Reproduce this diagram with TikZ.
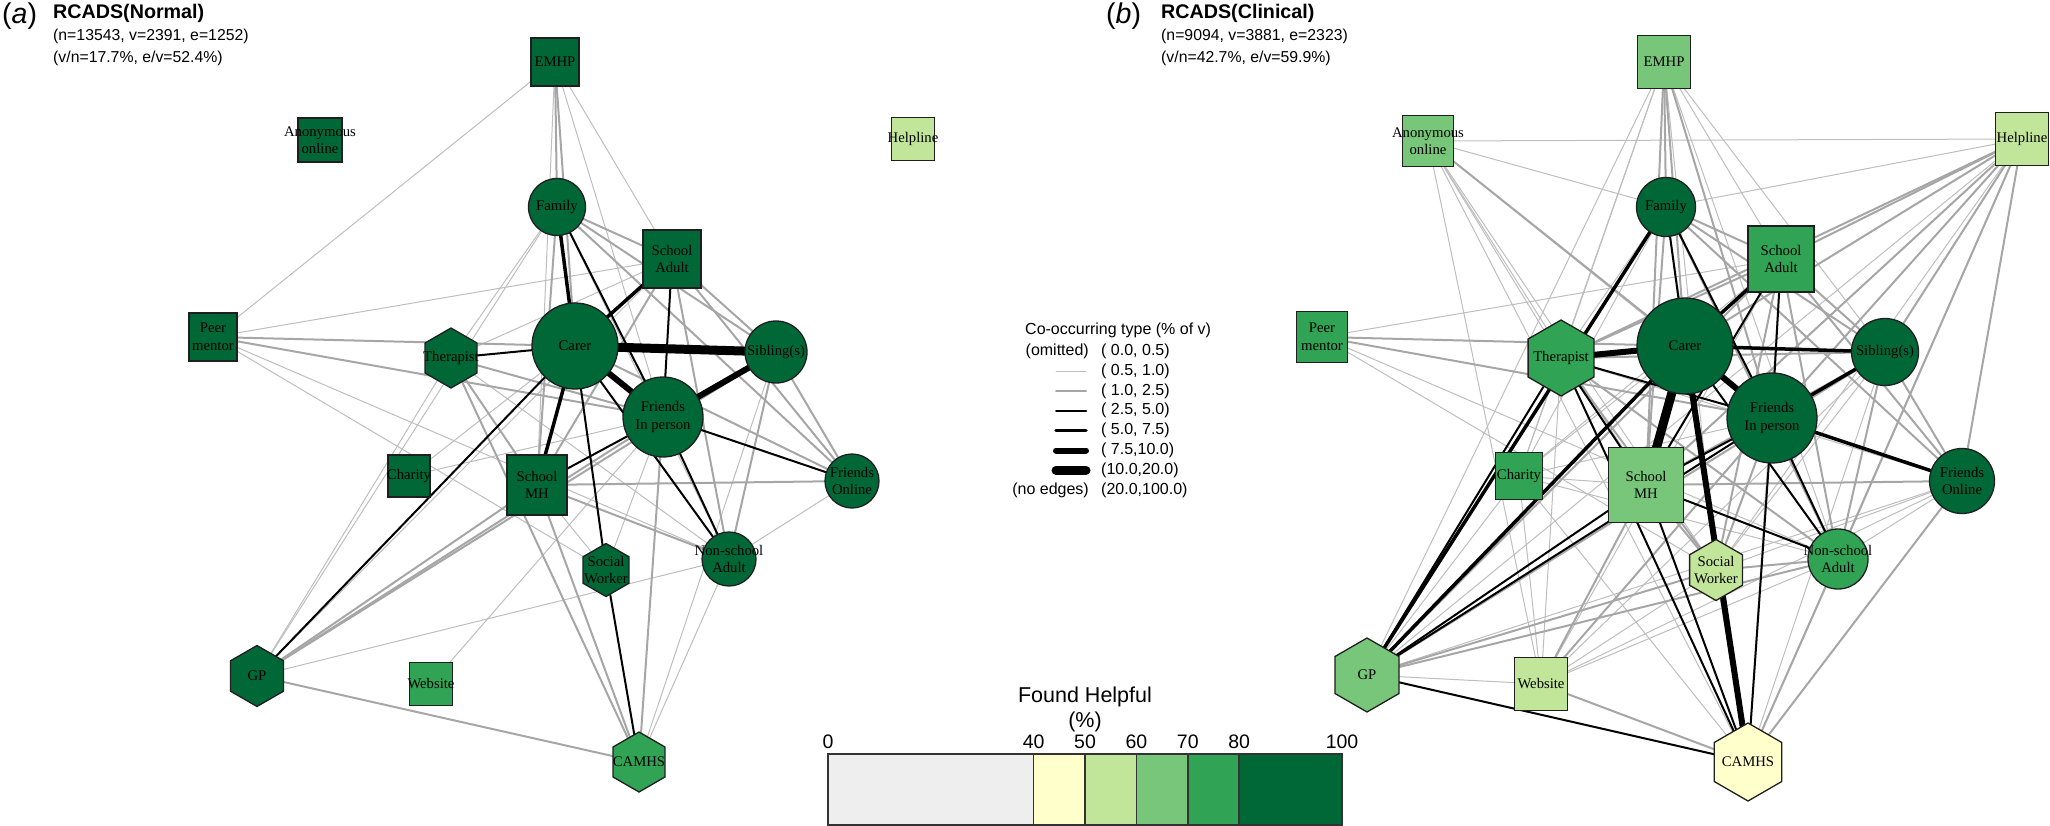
\documentclass[tikz,border=0pt]{standalone}
\usepackage{fontspec}
\setmainfont{Liberation Serif}
\newfontfamily\hv{Liberation Sans}
\usetikzlibrary{shapes.geometric}
\pgfdeclarelayer{background}
\pgfsetlayers{background,main}
\definecolor{cA}{HTML}{006837}
\definecolor{cB}{HTML}{31A354}
\definecolor{cC}{HTML}{78C679}
\definecolor{cD}{HTML}{C2E699}
\definecolor{cE}{HTML}{FFFFCC}
\definecolor{cZ}{HTML}{EEEEEE}
\definecolor{lgt}{HTML}{BEBEBE}
\definecolor{mgt}{HTML}{A6A6A6}
\definecolor{bord}{HTML}{1F1F1F}
\newcommand\mkvtx[6]{\node[#2, minimum size=#3pt, fill=#4] (#1) at (#5) {};
  \node[lbl] at (#1.center) {#6};}
\newcommand\edgeset[3]{\foreach \p/\q in {#3} {\draw[#2] (\p-#1.center) -- (\q-#1.center);}}
\begin{document}
\begin{tikzpicture}[x=1pt,y=-1pt,
  nd/.style={draw=bord, line width=1.3pt, inner sep=0pt, outer sep=0pt},
  sq/.style={nd, rectangle},
  ci/.style={nd, circle},
  hx/.style={nd, regular polygon, regular polygon sides=6, shape border rotate=30},
  lbl/.style={font=\fontsize{14.7}{17.5}\selectfont, align=center, inner sep=0pt, text=black},
  et/.style={line width=1pt, draw=lgt, line cap=round},
  eg/.style={line width=2pt, draw=mgt, line cap=round},
  e2/.style={line width=2pt, draw=black, line cap=round},
  e3/.style={line width=3.5pt, draw=black, line cap=round},
  e6/.style={line width=6pt, draw=black, line cap=round},
  e9/.style={line width=9pt, draw=black, line cap=round},
  hdbig/.style={anchor=base west, inner sep=0pt, font=\hv\fontsize{28.5}{30}\selectfont},
  hdtitle/.style={anchor=base west, inner sep=0pt, font=\hv\bfseries\fontsize{19.7}{22}\selectfont},
  hdsub/.style={anchor=base west, inner sep=0pt, font=\hv\fontsize{15.8}{18}\selectfont},
  lgtxt/.style={inner sep=0pt, font=\hv\fontsize{16}{18}\selectfont},
  cbtxt/.style={anchor=base, inner sep=0pt, font=\hv\fontsize{19.5}{21}\selectfont},
  cbttl/.style={anchor=base, inner sep=0pt, font=\hv\fontsize{21.5}{24}\selectfont},
  cbbox/.style={draw=black!80, line width=1.5pt}
]
\useasboundingbox (0,0) rectangle (2050,826);

% ---------- headers ----------
\node[hdbig] (ha) at (2,24) {(\textit{a})};
\node[hdtitle] (ta) at (53,19) {RCADS(Normal)};
\node[hdsub] (sa1) at (53,41) {(n=13543, v=2391, e=1252)};
\node[hdsub] (sa2) at (53,63) {(v/n=17.7\%, e/v=52.4\%)};
\node[hdbig] (hb) at (1106,24) {(\textit{b})};
\node[hdtitle] (tb) at (1161,19) {RCADS(Clinical)};
\node[hdsub] (sb1) at (1161,41) {(n=9094, v=3881, e=2323)};
\node[hdsub] (sb2) at (1161,63) {(v/n=42.7\%, e/v=59.9\%)};

% ---------- panel (a) nodes ----------
\mkvtx{emhp-A}{sq}{48}{cA}{555,62}{EMHP}
\mkvtx{anon-A}{sq}{44}{cA}{320,140}{Anonymous\\online}
\mkvtx{help-A}{sq}{43}{cD}{913,139}{Helpline}
\mkvtx{fam-A}{ci}{57}{cA}{557,207}{Family}
\mkvtx{sa-A}{sq}{58}{cA}{672,259}{School\\Adult}
\mkvtx{peer-A}{sq}{48}{cA}{213,337}{Peer\\mentor}
\mkvtx{ther-A}{hx}{60}{cA}{451,358}{Therapist}
\mkvtx{carer-A}{ci}{86}{cA}{575,346}{Carer}
\mkvtx{sib-A}{ci}{62}{cA}{776,352}{Sibling(s)}
\mkvtx{fip-A}{ci}{80}{cA}{663,417}{Friends\\In person}
\mkvtx{char-A}{sq}{42}{cA}{409,476}{Charity}
\mkvtx{smh-A}{sq}{60}{cA}{537,485}{School\\MH}
\mkvtx{sw-A}{hx}{53}{cA}{606,570}{Social\\Worker}
\mkvtx{nsa-A}{ci}{54}{cA}{729,559}{Non-school\\Adult}
\mkvtx{fon-A}{ci}{54}{cA}{852,481}{Friends\\Online}
\mkvtx{gp-A}{hx}{61}{cA}{257,676}{GP}
\mkvtx{web-A}{sq}{43}{cB}{431,684}{Website}
\mkvtx{camhs-A}{hx}{60}{cB}{639,762}{CAMHS}

% ---------- panel (b) nodes ----------
\mkvtx{emhp-B}{sq}{53}{cC}{1664,62}{EMHP}
\mkvtx{anon-B}{sq}{51}{cC}{1428,141}{Anonymous\\online}
\mkvtx{help-B}{sq}{53}{cD}{2022,139}{Helpline}
\mkvtx{fam-B}{ci}{59}{cA}{1666,207}{Family}
\mkvtx{sa-B}{sq}{66}{cB}{1781,259}{School\\Adult}
\mkvtx{peer-B}{sq}{51}{cB}{1322,337}{Peer\\mentor}
\mkvtx{ther-B}{hx}{76}{cB}{1561,358}{Therapist}
\mkvtx{carer-B}{ci}{96}{cA}{1685,346}{Carer}
\mkvtx{sib-B}{ci}{67}{cA}{1885,352}{Sibling(s)}
\mkvtx{fip-B}{ci}{90}{cA}{1772,418}{Friends\\In person}
\mkvtx{char-B}{sq}{47}{cB}{1519,476}{Charity}
\mkvtx{smh-B}{sq}{75}{cC}{1646,485}{School\\MH}
\mkvtx{sw-B}{hx}{61}{cD}{1716,570}{Social\\Worker}
\mkvtx{nsa-B}{ci}{60}{cB}{1838,559}{Non-school\\Adult}
\mkvtx{fon-B}{ci}{65}{cA}{1962,481}{Friends\\Online}
\mkvtx{gp-B}{hx}{74}{cC}{1367,675}{GP}
\mkvtx{web-B}{sq}{53}{cD}{1541,684}{Website}
\mkvtx{camhs-B}{hx}{78}{cE}{1748,762}{CAMHS}

% ---------- edges ----------
\begin{pgfonlayer}{background}
% panel (a)
\edgeset{A}{et}{emhp/peer, emhp/sa, emhp/fip, emhp/smh, peer/sa, peer/nsa, peer/sw, fam/ther, fam/gp, ther/gp, fam/nsa, sa/gp, gp/nsa, web/fip, camhs/nsa, camhs/sib, nsa/fon, sw/fip, sw/smh, char/carer, char/fip, sa/ther, ther/nsa}
\edgeset{A}{eg}{emhp/fam, emhp/carer, peer/carer, peer/fip, fam/sa, fam/sib, fam/fon, fam/smh, sa/sib, sa/fon, sa/nsa, sa/smh, sib/nsa, sib/fon, ther/fip, ther/smh, ther/camhs, smh/fon, smh/nsa, smh/camhs, smh/gp, gp/fip, gp/sib, gp/camhs, fip/camhs, carer/fon}
\edgeset{A}{e2}{fam/fip, sa/fip, carer/ther, carer/sw, carer/gp, fip/smh, carer/nsa, fip/nsa, fip/fon, sw/camhs}
\edgeset{A}{e3}{carer/fam, carer/sa, carer/smh}
\edgeset{A}{e6}{carer/fip, fip/sib}
\edgeset{A}{e9}{carer/sib}
% panel (b)
\edgeset{B}{et}{anon/help, anon/fam, anon/ther, anon/web, anon/fip, anon/sw, anon/smh, anon/camhs, emhp/ther, emhp/char, emhp/sa, emhp/sib, emhp/nsa, emhp/sw, emhp/gp, peer/sa, peer/nsa, peer/sw, help/fam, help/sw, help/camhs, help/gp, ther/fon, ther/web, ther/char, fam/ther, fam/sw, fam/camhs, fam/char, sa/camhs, sa/web, sa/char, sib/sw, sib/camhs, sib/web, fip/char, char/smh, char/carer, char/camhs, char/web, char/nsa, sw/fon, sw/web, nsa/fon, nsa/web, fon/gp, fon/web, web/gp, char/gp}
\edgeset{B}{eg}{emhp/fam, emhp/carer, emhp/smh, emhp/fip, peer/carer, peer/fip, anon/carer, help/sa, help/carer, help/fip, help/sib, help/fon, help/nsa, help/smh, help/ther, fam/sa, fam/sib, fam/fon, fam/nsa, fam/smh, sa/sib, sa/fon, sa/nsa, sa/ther, sa/gp, sa/sw, sib/nsa, sib/fon, sib/smh, sib/gp, ther/sib, ther/nsa, ther/sw, fip/sw, fip/web, smh/fon, smh/sw, smh/web, sw/nsa, sw/gp, sw/camhs, nsa/camhs, nsa/gp, fon/camhs, web/camhs}
\edgeset{B}{e2}{carer/fam, fam/fip, sa/fip, sa/smh, ther/fip, ther/smh, ther/camhs, ther/gp, fip/smh, gp/fip, smh/nsa, fip/nsa, carer/nsa, fip/camhs, smh/camhs, gp/camhs, gp/smh}
\edgeset{B}{e3}{carer/sa, carer/sib, fip/sib, fip/fon, carer/gp, fam/gp}
\edgeset{B}{e6}{carer/ther, carer/fip, carer/camhs}
\edgeset{B}{e9}{carer/smh}
\end{pgfonlayer}

% ---------- edge legend ----------
\node[lgtxt, anchor=base west] (lgt) at (1025,334) {Co-occurring type (\% of v)};
\node[lgtxt, anchor=base east] (lgom) at (1089,355.5) {(omitted)};
\node[lgtxt, anchor=base east] (lgne) at (1089,494) {(no edges)};
\foreach \t [count=\i from 0] in {{( 0.0, 0.5)},{( 0.5, 1.0)},{( 1.0, 2.5)},{( 2.5, 5.0)},{( 5.0, 7.5)},{( 7.5,10.0)},{(10.0,20.0)},{(20.0,100.0)}}
  {\node[lgtxt, anchor=base west] at (1101,355.5+19.8*\i) {\t};}
\foreach \s [count=\i from 1] in {et,eg,e2,e3,e6,e9}
  {\draw[\s] (1056,351.5+19.8*\i) -- (1086,351.5+19.8*\i);}

% ---------- colour bar ----------
\node[cbttl] (cbt) at (1085,702) {Found Helpful};
\node[cbttl] (cbp) at (1085,727) {(\%)};
\foreach \a/\b/\c in {0/40/cZ,40/50/cE,50/60/cD,60/70/cC,70/80/cB,80/100/cA}
  {\filldraw[cbbox, fill=\c] (828+5.14*\a,754) rectangle (828+5.14*\b,825);}
\foreach \v in {0,40,50,60,70,80,100}
  {\node[cbtxt] at (828+5.14*\v,748) {\v};}
\end{tikzpicture}
\end{document}
